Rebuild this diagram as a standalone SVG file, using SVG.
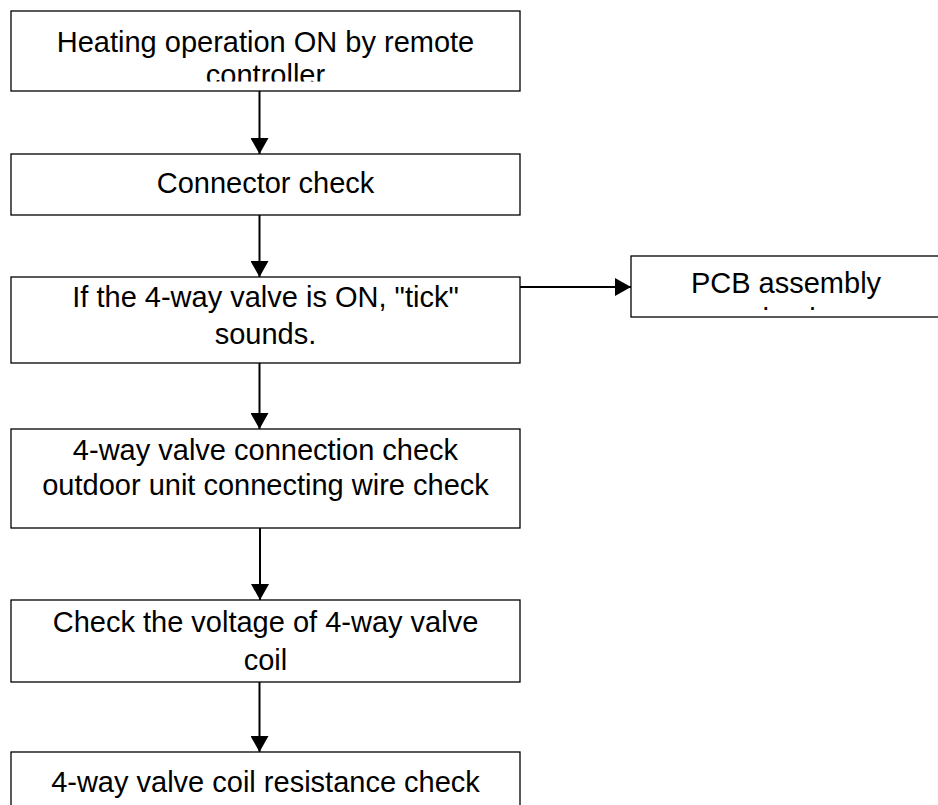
<svg xmlns="http://www.w3.org/2000/svg" width="938" height="805" viewBox="0 0 938 805">
<style>
.box{fill:#fff;stroke:#000;stroke-width:1.3}
.t{font-family:"Liberation Sans",Arial,sans-serif;font-size:29px;fill:#000;text-anchor:middle}
.c{stroke:#000;stroke-width:2;fill:none}
</style>
<defs>
<marker id="ah" viewBox="0 0 16 18" refX="16" refY="9" markerWidth="16" markerHeight="18" markerUnits="userSpaceOnUse" orient="auto">
<path d="M0,0 L16,9 L0,18 Z" fill="#000"/>
</marker>
<clipPath id="c1"><rect x="11" y="11" width="510" height="70.5"/></clipPath>
<clipPath id="cp"><rect x="631" y="256" width="310" height="54"/></clipPath>
</defs>
<rect width="938" height="805" fill="#fff"/>
<g id="connectors">
<line class="c" x1="259.5" y1="91" x2="259.5" y2="154" marker-end="url(#ah)"/>
<line class="c" x1="259.5" y1="215" x2="259.5" y2="277" marker-end="url(#ah)"/>
<line class="c" x1="259.5" y1="363" x2="259.5" y2="429" marker-end="url(#ah)"/>
<line class="c" x1="260" y1="528" x2="260" y2="600" marker-end="url(#ah)"/>
<line class="c" x1="259.5" y1="682" x2="259.5" y2="752" marker-end="url(#ah)"/>
<line class="c" x1="520" y1="287" x2="631" y2="287" marker-end="url(#ah)"/>
</g>
<g id="n1">
<rect class="box" x="11" y="11" width="509" height="80"/>
<g clip-path="url(#c1)">
<text class="t" x="265.5" y="52">Heating operation ON by remote</text>
<text class="t" x="265.5" y="84.5">controller</text>
</g>
</g>
<g id="n2">
<rect class="box" x="11" y="154" width="509" height="61"/>
<text class="t" x="265.5" y="193">Connector check</text>
</g>
<g id="n3">
<rect class="box" x="11" y="277" width="509" height="86"/>
<text class="t" x="265.5" y="307">If the 4-way valve is ON, "tick"</text>
<text class="t" x="265.5" y="344">sounds.</text>
</g>
<g id="n4">
<rect class="box" x="631" y="256" width="320" height="61"/>
<g clip-path="url(#cp)">
<text class="t" x="786" y="293">PCB assembly</text>
<text class="t" x="786" y="329">check</text>
</g>
</g>
<g id="n5">
<rect class="box" x="11" y="429" width="509" height="99"/>
<text class="t" x="265.5" y="460">4-way valve connection check</text>
<text class="t" x="265.5" y="495">outdoor unit connecting wire check</text>
</g>
<g id="n6">
<rect class="box" x="11" y="600" width="509" height="82"/>
<text class="t" x="265.5" y="632">Check the voltage of 4-way valve</text>
<text class="t" x="265.5" y="670">coil</text>
</g>
<g id="n7">
<rect class="box" x="11" y="752" width="509" height="70"/>
<text class="t" x="265.5" y="792">4-way valve coil resistance check</text>
</g>
</svg>
